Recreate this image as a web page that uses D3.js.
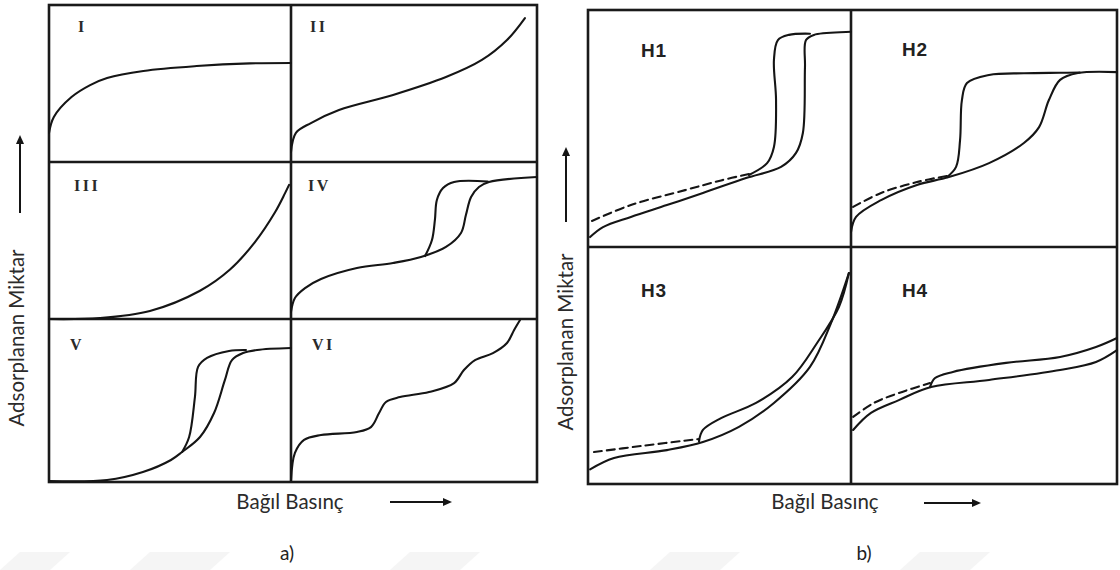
<!DOCTYPE html>
<html><head><meta charset="utf-8">
<script src="https://cdn.jsdelivr.net/npm/d3@7"></script>
<style>html,body{margin:0;padding:0;background:#fff;}svg{display:block;}</style>
</head><body>
<svg id="c" width="1120" height="570"></svg>
<script>
// ---------- DATA (normalized: x = relative pressure 0..1, y = adsorbed amount 0..1 within each cell) ----------
const typeLabels = ["I","II","III","IV","V","VI"];
const hystLabels = ["H1","H2","H3","H4"];
const axisYTitle = "Adsorplanan Miktar";
const axisXTitle = "Bağıl Basınç";
const panelTags = ["a)","b)"];

const curveI   = [[0,0.185],[0.02,0.287],[0.093,0.414],[0.17,0.49],[0.24,0.535],[0.39,0.58],[0.61,0.611],[0.83,0.628],[1.0,0.631]];
const curveII  = [[0,0.064],[0.02,0.185],[0.081,0.248],[0.195,0.331],[0.415,0.427],[0.63,0.541],[0.776,0.65],[0.878,0.777],[0.951,0.917]];
const curveIII = [[0,0],[0.21,0.006],[0.417,0.051],[0.624,0.18],[0.748,0.315],[0.851,0.49],[0.934,0.68],[0.975,0.8],[0.992,0.854]];
const curveIVads = [[0,0.045],[0.016,0.134],[0.057,0.197],[0.122,0.255],[0.268,0.325],[0.415,0.357],[0.528,0.395],[0.63,0.459],[0.691,0.548],[0.711,0.662],[0.732,0.777],[0.764,0.841],[0.805,0.873],[1.0,0.904]];
const curveIVdes = [[0.545,0.401],[0.573,0.503],[0.585,0.631],[0.593,0.758],[0.618,0.834],[0.663,0.873],[0.8,0.876]];
const curveVads = [[0,0.006],[0.24,0.012],[0.388,0.061],[0.504,0.135],[0.55,0.184],[0.624,0.276],[0.682,0.423],[0.727,0.626],[0.756,0.748],[0.802,0.791],[0.86,0.81],[1.0,0.822]];
const curveVdes = [[0.55,0.184],[0.579,0.276],[0.603,0.521],[0.616,0.706],[0.653,0.761],[0.744,0.804],[0.814,0.81]];
const curveVI  = [[0,0.012],[0.016,0.178],[0.053,0.258],[0.122,0.288],[0.268,0.307],[0.325,0.337],[0.358,0.423],[0.386,0.491],[0.443,0.521],[0.561,0.552],[0.663,0.607],[0.703,0.687],[0.748,0.748],[0.821,0.791],[0.878,0.853],[0.907,0.933],[0.931,0.994]];

const h1Ads = [[0.008,0.042],[0.057,0.084],[0.163,0.127],[0.3,0.177],[0.437,0.228],[0.601,0.291],[0.734,0.338],[0.791,0.397],[0.817,0.481],[0.825,0.759],[0.829,0.873],[0.859,0.895],[0.981,0.907],[1.0,0.908]];
const h1Des = [[0.612,0.304],[0.681,0.354],[0.707,0.422],[0.715,0.62],[0.707,0.789],[0.722,0.873],[0.764,0.895],[0.844,0.9]];
const h1Dash = [[0.015,0.11],[0.163,0.177],[0.369,0.24],[0.506,0.281],[0.612,0.308]];
const h2Ads = [[0,0.063],[0.019,0.127],[0.113,0.198],[0.248,0.262],[0.368,0.295],[0.519,0.354],[0.65,0.439],[0.707,0.506],[0.744,0.62],[0.786,0.705],[0.853,0.734],[1.0,0.738]];
const h2Des = [[0.361,0.295],[0.395,0.338],[0.41,0.451],[0.417,0.62],[0.436,0.692],[0.519,0.726],[0.65,0.733],[0.786,0.735],[0.86,0.736]];
const h2Dash = [[0.008,0.169],[0.113,0.228],[0.248,0.274],[0.361,0.3]];
const h3Ads = [[0.008,0.062],[0.099,0.11],[0.3,0.143],[0.437,0.177],[0.574,0.241],[0.707,0.342],[0.844,0.494],[0.924,0.679],[0.992,0.89]];
const h3Des = [[0.422,0.18],[0.437,0.228],[0.506,0.278],[0.639,0.342],[0.776,0.451],[0.871,0.595],[0.954,0.747],[0.992,0.89]];
const h3Dash = [[0.023,0.135],[0.2,0.16],[0.422,0.19]];
const h4Ads = [[0.008,0.228],[0.075,0.3],[0.18,0.354],[0.301,0.409],[0.519,0.439],[0.786,0.481],[0.921,0.515],[1.0,0.565]];
const h4Des = [[0.297,0.409],[0.316,0.447],[0.383,0.473],[0.583,0.511],[0.786,0.536],[0.921,0.578],[1.0,0.616]];
const h4Dash = [[0.008,0.283],[0.086,0.342],[0.18,0.384],[0.297,0.426]];

// ---------- LAYOUT ----------
const svg = d3.select("#c");
const INK = "#151515";
const panelA = {x0:49, x1:537, y0:5, y1:482, cols:[49,291,537], rows:[5,162,319,482]};
const panelB = {x0:588, x1:1117, y0:10, y1:484, cols:[588,851,1117], rows:[10,247,484]};

function cell(p, c, r){
  const x = d3.scaleLinear().domain([0,1]).range([p.cols[c], p.cols[c+1]]);
  const y = d3.scaleLinear().domain([0,1]).range([p.rows[r+1], p.rows[r]]);
  return {x, y};
}
function drawCurve(sc, data, dashed){
  const line = d3.line().x(d=>sc.x(d[0])).y(d=>sc.y(d[1])).curve(d3.curveCatmullRom.alpha(0.5));
  svg.append("path").attr("d", line(data)).attr("fill","none")
    .attr("stroke", INK).attr("stroke-width", 2.1)
    .attr("stroke-linecap","round").attr("stroke-linejoin","round")
    .attr("stroke-dasharray", dashed ? "8,5" : null);
}
function drawFrame(p){
  const g = svg.append("g").attr("stroke","#1a1a1a").attr("stroke-width",2.6).attr("fill","none");
  g.append("rect").attr("x",p.x0).attr("y",p.y0).attr("width",p.x1-p.x0).attr("height",p.y1-p.y0);
  p.cols.slice(1,-1).forEach(x=>g.append("line").attr("x1",x).attr("x2",x).attr("y1",p.y0).attr("y2",p.y1));
  p.rows.slice(1,-1).forEach(y=>g.append("line").attr("x1",p.x0).attr("x2",p.x1).attr("y1",y).attr("y2",y));
}
function arrow(x1,y1,x2,y2){
  const ang = Math.atan2(y2-y1, x2-x1);
  const L = 9, Wd = 4;
  const bx = x2 - L*Math.cos(ang), by = y2 - L*Math.sin(ang);
  svg.append("line").attr("x1",x1).attr("y1",y1).attr("x2",bx).attr("y2",by)
    .attr("stroke",INK).attr("stroke-width",2);
  const px = -Math.sin(ang)*Wd, py = Math.cos(ang)*Wd;
  svg.append("path").attr("d",`M${x2},${y2}L${bx+px},${by+py}L${bx-px},${by-py}Z`).attr("fill",INK);
}

// faint watermark shapes at the bottom
const wm = [[0,70],[130,230],[390,480],[650,740],[900,990]];
wm.forEach(([a,b])=>{
  svg.append("path").attr("d",`M${a},570L${a+20},552L${b},552L${b-20},570Z`).attr("fill","#f5f5f5");
});

// ---------- PANEL a ----------
drawFrame(panelA);
const aCurves = [[curveI],[curveII],[curveIII],[curveIVads,curveIVdes],[curveVads,curveVdes],[curveVI]];
const romanPos = [[78,32],[310,32],[74,191],[308,191],[70,350],[312,350]];
aCurves.forEach((list,i)=>{
  const sc = cell(panelA, i%2, Math.floor(i/2));
  list.forEach(d=>drawCurve(sc,d,false));
  svg.append("text").attr("x",romanPos[i][0]).attr("y",romanPos[i][1])
    .attr("font-family","'Liberation Serif', serif").attr("font-weight","bold")
    .attr("font-size",16).attr("letter-spacing",2.5).attr("fill","#2a2a2a").text(typeLabels[i]);
});

// ---------- PANEL b ----------
drawFrame(panelB);
const bCurves = [[h1Ads,h1Des,h1Dash],[h2Ads,h2Des,h2Dash],[h3Ads,h3Des,h3Dash],[h4Ads,h4Des,h4Dash]];
const hPos = [[641,57],[902,56],[641,297],[902,297]];
bCurves.forEach((list,i)=>{
  const sc = cell(panelB, i%2, Math.floor(i/2));
  drawCurve(sc,list[0],false);
  drawCurve(sc,list[1],false);
  drawCurve(sc,list[2],true);
  svg.append("text").attr("x",hPos[i][0]).attr("y",hPos[i][1])
    .attr("font-family","'Liberation Sans', Arial, sans-serif").attr("font-weight","bold")
    .attr("font-size",19).attr("letter-spacing",0.8).attr("fill","#222").text(hystLabels[i]);
});

// ---------- axis titles ----------
const tf = "Lato, 'Open Sans', sans-serif";
const TS = 20.5;
function yTitle(x, cy){
  svg.append("text").attr("transform",`translate(${x},${cy}) rotate(-90)`)
    .attr("text-anchor","middle").attr("font-family",tf).attr("font-size",TS)
    .attr("fill","#2b2b2b").text(axisYTitle);
}
yTitle(24, 338); arrow(20,213,20,135);
yTitle(573, 342); arrow(566,222,566,147);

function xTitle(cx, y){
  svg.append("text").attr("x",cx).attr("y",y).attr("text-anchor","middle")
    .attr("font-family",tf).attr("font-size",TS).attr("fill","#2b2b2b").text(axisXTitle);
}
xTitle(290, 509); arrow(390,502,452,502);
xTitle(825, 509); arrow(924,503,981,503);

svg.append("text").attr("x",287).attr("y",560).attr("text-anchor","middle")
  .attr("font-family",tf).attr("font-size",19).attr("fill","#222").text(panelTags[0]);
svg.append("text").attr("x",864).attr("y",560).attr("text-anchor","middle")
  .attr("font-family",tf).attr("font-size",19).attr("fill","#222").text(panelTags[1]);
</script>
</body></html>
